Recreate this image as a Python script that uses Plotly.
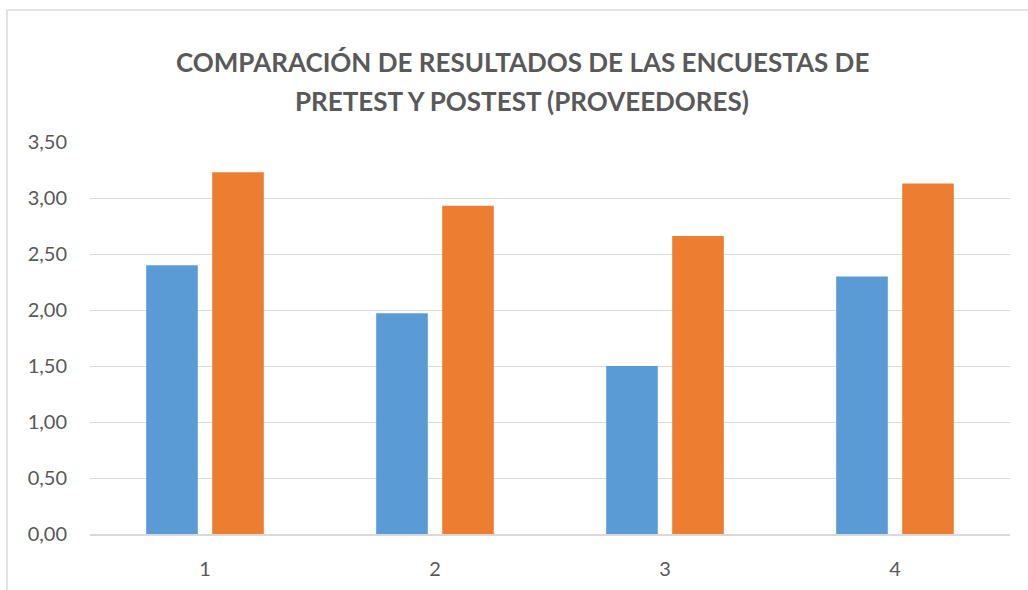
import plotly.graph_objects as go

categories = ["1", "2", "3", "4"]
pretest = [2.40, 1.97, 1.50, 2.30]
postest = [3.23, 2.93, 2.66, 3.13]
y_ticks = [0, 0.5, 1.0, 1.5, 2.0, 2.5, 3.0, 3.5]
title_lines = ["COMPARACIÓN DE RESULTADOS DE LAS ENCUESTAS DE", "PRETEST Y POSTEST (PROVEEDORES)"]

FONT = "Lato"
GREY = "#595959"

fig = go.Figure()
fig.add_trace(go.Bar(x=categories, y=pretest, name="Pretest", marker=dict(color="#5B9BD5", line=dict(width=0))))
fig.add_trace(go.Bar(x=categories, y=postest, name="Postest", marker=dict(color="#ED7D31", line=dict(width=0))))

W, H = 1028, 590
ml, mr, mt, mb = 90, 18, 142, 56
pw, ph = W - ml - mr, H - mt - mb

def px_x(x):
    return (x - ml) / pw

def px_y(y):
    return (H - mb - y) / ph

annotations = []
for txt, yc in zip(title_lines, [62, 101]):
    annotations.append(dict(
        text="<b>" + txt + "</b>", xref="paper", yref="paper",
        x=px_x(522), y=px_y(yc), xanchor="center", yanchor="middle",
        showarrow=False, font=dict(family=FONT, size=26, color=GREY),
    ))

fig.update_layout(
    width=W, height=H,
    margin=dict(l=ml, r=mr, t=mt, b=mb, autoexpand=False),
    paper_bgcolor="white", plot_bgcolor="white",
    separators=",.",
    showlegend=False,
    barmode="group",
    bargap=0.426,
    bargroupgap=0.218,
    font=dict(family=FONT, color=GREY, size=20),
    annotations=annotations,
    xaxis=dict(
        showgrid=False, showline=True, linecolor="#D9D9D9", linewidth=1.5,
        ticks="", tickfont=dict(size=20, color=GREY), ticklabelstandoff=16,
        automargin=False,
    ),
    yaxis=dict(
        range=[0, 3.5], tickvals=y_ticks, tickformat=".2f",
        showgrid=True, gridcolor="#D9D9D9", gridwidth=1,
        zeroline=False, showline=False, ticks="",
        tickfont=dict(size=20, color=GREY), ticklabelstandoff=22,
        automargin=False,
    ),
    shapes=[
        dict(type="line", xref="paper", yref="paper",
             x0=px_x(7), x1=px_x(7), y0=px_y(10), y1=px_y(600),
             line=dict(color="#D9D9D9", width=1.5)),
        dict(type="line", xref="paper", yref="paper",
             x0=px_x(7), x1=px_x(1040), y0=px_y(10), y1=px_y(10),
             line=dict(color="#D9D9D9", width=1.5)),
    ],
)

fig.write_html("out.html", config={"displayModeBar": False},
               post_script="document.body.style.margin='0';document.body.style.overflow='hidden';")
